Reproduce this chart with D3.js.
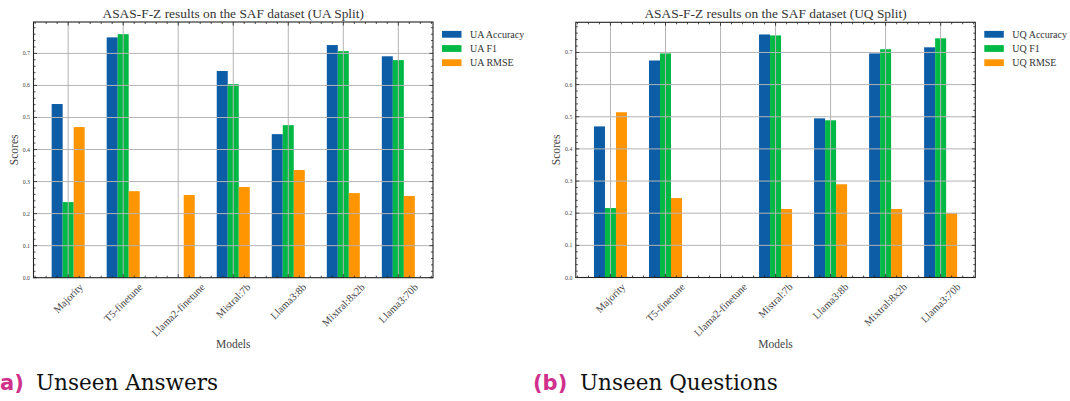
<!DOCTYPE html>
<html>
<head>
<meta charset="utf-8">
<script src="https://cdn.jsdelivr.net/npm/d3@7"></script>
<style>
  html, body { margin: 0; padding: 0; background: #fff; }
  svg { display: block; }
</style>
</head>
<body>
<svg id="fig" width="1070" height="401"></svg>
<script>
// Model names on the x axis
const models = ["Majority", "T5-finetune", "Llama2-finetune", "Mistral:7b", "Llama3:8b", "Mixtral:8x2b", "Llama3:70b"];

// Unseen Answers split
const uaAccuracy = [0.542, 0.750, 0.0, 0.645, 0.448, 0.726, 0.691];
const uaF1       = [0.236, 0.760, 0.0, 0.604, 0.476, 0.707, 0.679];
const uaRMSE     = [0.470, 0.270, 0.258, 0.283, 0.336, 0.264, 0.255];

// Unseen Questions split
const uqAccuracy = [0.470, 0.675, 0.0, 0.756, 0.495, 0.697, 0.716];
const uqF1       = [0.216, 0.697, 0.0, 0.753, 0.489, 0.710, 0.744];
const uqRMSE     = [0.514, 0.247, 0.0, 0.213, 0.290, 0.213, 0.200];

const yTicks = [0.0, 0.1, 0.2, 0.3, 0.4, 0.5, 0.6, 0.7];
const colors = ["#0C5DA5", "#00B945", "#FF9500"];

const panels = [
  { title: "ASAS-F-Z results on the SAF dataset (UA Split)",
    series: [["UA Accuracy", uaAccuracy], ["UA F1", uaF1], ["UA RMSE", uaRMSE]],
    tag: "a)", caption: "Unseen Answers", dx: 0, top: 22, bottom: 277.7, tagX: 0, capX: 36 },
  { title: "ASAS-F-Z results on the SAF dataset (UQ Split)",
    series: [["UQ Accuracy", uqAccuracy], ["UQ F1", uqF1], ["UQ RMSE", uqRMSE]],
    tag: "(b)", caption: "Unseen Questions", dx: 542.3, top: 22.3, bottom: 277.5, tagX: 533, capX: 580 }
];

const svg = d3.select("#fig");
const serif = "'Liberation Serif', 'Times New Roman', serif";
const barW = 0.2;

panels.forEach(p => {
  const x0 = 33.5 + p.dx, x1 = 433 + p.dx;
  const n = models.length;
  const lo = -barW * 1.5, hi = (n - 1) + barW * 1.5;
  const pad = (hi - lo) * 0.05;
  const x = d3.scaleLinear().domain([lo - pad, hi + pad]).range([x0, x1]);
  const yMax = d3.max(p.series.flatMap(s => s[1])) * 1.05;
  const y = d3.scaleLinear().domain([0, yMax]).range([p.bottom, p.top]);

  const g = svg.append("g");

  // bars: accuracy left of the tick, F1 on it, RMSE to the right
  p.series.forEach((s, si) => {
    const off = (si - 1) * barW;
    g.append("g").selectAll("rect").data(s[1]).join("rect")
      .attr("x", (d, i) => x(i + off - barW / 2))
      .attr("width", x(barW) - x(0))
      .attr("y", d => y(d))
      .attr("height", d => y(0) - y(d))
      .attr("fill", colors[si]);
  });

  // grid drawn above the bars
  const grid = g.append("g").attr("stroke", "#b4b4b4").attr("stroke-width", 1);
  grid.selectAll("line.h").data(yTicks.filter(t => t > 0)).join("line")
    .attr("x1", x0).attr("x2", x1).attr("y1", d => y(d)).attr("y2", d => y(d));
  grid.selectAll("line.v").data(d3.range(n)).join("line")
    .attr("y1", p.top).attr("y2", p.bottom).attr("x1", d => x(d)).attr("x2", d => x(d));

  // ticks pointing inward on all four sides
  const tk = g.append("g").attr("stroke", "#222").attr("stroke-width", 0.8);
  const yMinor = d3.range(0, yMax, 0.02).filter(v => Math.abs(v * 10 - Math.round(v * 10)) > 1e-6);
  yTicks.forEach(v => {
    tk.append("line").attr("x1", x0).attr("x2", x0 + 3.5).attr("y1", y(v)).attr("y2", y(v));
    tk.append("line").attr("x1", x1).attr("x2", x1 - 3.5).attr("y1", y(v)).attr("y2", y(v));
  });
  yMinor.forEach(v => {
    tk.append("line").attr("x1", x0).attr("x2", x0 + 2).attr("y1", y(v)).attr("y2", y(v));
    tk.append("line").attr("x1", x1).attr("x2", x1 - 2).attr("y1", y(v)).attr("y2", y(v));
  });
  const dom = x.domain();
  d3.range(Math.ceil(dom[0] / 0.2), Math.floor(dom[1] / 0.2) + 1).map(k => k * 0.2).forEach(v => {
    const major = Math.abs(v - Math.round(v)) < 1e-6;
    const len = major ? 3.5 : 2;
    tk.append("line").attr("x1", x(v)).attr("x2", x(v)).attr("y1", p.bottom).attr("y2", p.bottom - len);
    tk.append("line").attr("x1", x(v)).attr("x2", x(v)).attr("y1", p.top).attr("y2", p.top + len);
  });

  // frame
  g.append("rect").attr("x", x0).attr("y", p.top).attr("width", x1 - x0).attr("height", p.bottom - p.top)
    .attr("fill", "none").attr("stroke", "#222").attr("stroke-width", 1.1);

  // y tick labels
  g.append("g").selectAll("text").data(yTicks).join("text")
    .attr("x", x0 - 3.5).attr("y", d => y(d) + 2)
    .attr("text-anchor", "end").attr("font-family", serif).attr("font-size", 5.8).attr("fill", "#444")
    .text(d => d.toFixed(1));

  // rotated x tick labels, centred under each tick
  const fs = 10.5, asc = 0.68 * fs, labTop = p.bottom + 5;
  models.forEach((m, i) => {
    const t = g.append("text").attr("font-family", serif).attr("font-size", fs)
      .attr("fill", "#444").attr("text-anchor", "end").text(m);
    const L = t.node().getComputedTextLength();
    const px = x(i) + 0.3536 * (L + asc);
    const py = labTop + 0.7071 * asc;
    t.attr("transform", `translate(${px},${py}) rotate(-45)`);
  });

  // axis titles
  g.append("text").attr("x", (x0 + x1) / 2).attr("y", 347.5).attr("text-anchor", "middle")
    .attr("font-family", serif).attr("font-size", 11.5).attr("fill", "#444").text("Models");
  g.append("text").attr("transform", `translate(${x0 - 16},${(p.top + p.bottom) / 2}) rotate(-90)`)
    .attr("text-anchor", "middle").attr("font-family", serif).attr("font-size", 11.5).attr("fill", "#444").text("Scores");
  g.append("text").attr("x", (x0 + x1) / 2).attr("y", 18.3).attr("text-anchor", "middle")
    .attr("font-family", serif).attr("font-size", 13.4).attr("fill", "#333").text(p.title);

  // legend
  const lg = g.append("g");
  p.series.forEach((s, si) => {
    const cy = 34.3 + si * 14.2;
    lg.append("rect").attr("x", x1 + 9).attr("y", cy - 3.4).attr("width", 19.5).attr("height", 6.8).attr("fill", colors[si]);
    lg.append("text").attr("x", x1 + 37).attr("y", cy + 3.3).attr("font-family", serif)
      .attr("font-size", 10).attr("fill", "#333").text(s[0]);
  });

  // sub-figure caption
  svg.append("text").attr("x", p.tagX).attr("y", 390).attr("font-family", "'DejaVu Sans', sans-serif")
    .attr("font-weight", "bold").attr("font-size", 21).attr("fill", "#d0308c").text(p.tag);
  svg.append("text").attr("x", p.capX).attr("y", 390).attr("font-family", "'DejaVu Serif', serif")
    .attr("font-size", 21.5).attr("fill", "#111").text(p.caption);
});
</script>
</body>
</html>
